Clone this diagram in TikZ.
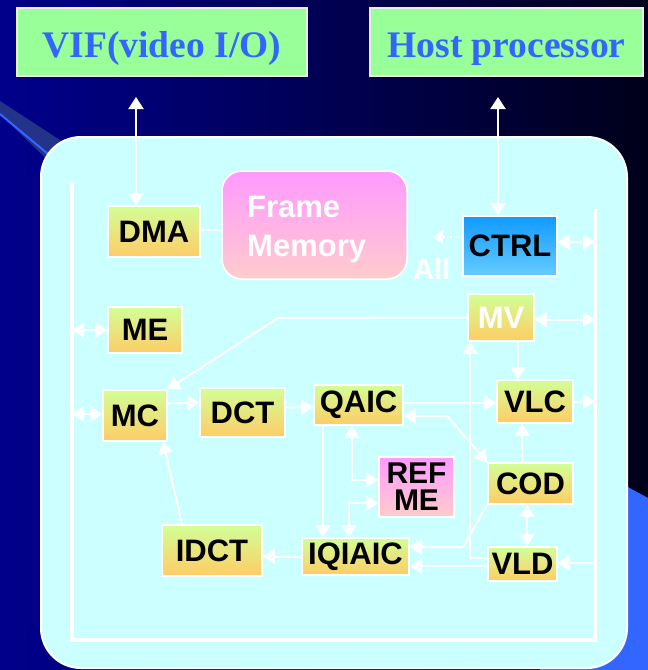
\documentclass[tikz,border=0pt]{standalone}
\usepackage{fontspec}
\setmainfont{Liberation Serif}
\newfontfamily\arialf{Liberation Sans}
\usetikzlibrary{arrows.meta}
\definecolor{bgL}{RGB}{0,0,140}
\definecolor{bgR}{RGB}{0,0,26}
\definecolor{stripe}{RGB}{34,51,136}
\definecolor{brblue}{RGB}{51,102,255}
\definecolor{panel}{RGB}{204,255,255}
\definecolor{topgreen}{RGB}{153,255,153}
\definecolor{topedge}{RGB}{235,235,235}
\definecolor{gtop}{RGB}{210,255,150}
\definecolor{gbot}{RGB}{255,204,102}
\definecolor{mtop}{RGB}{255,153,255}
\definecolor{mbot}{RGB}{255,204,204}
\definecolor{btop}{RGB}{17,153,255}
\definecolor{bbot}{RGB}{102,204,255}
\begin{document}
\begin{tikzpicture}[x=1pt,y=-1pt,
  topbox/.style={draw=topedge, line width=1.5pt, fill=topgreen, inner sep=0pt,
    text=brblue, font=\bfseries\fontsize{37.5}{37.5}\selectfont,
    text height=30pt, text depth=0pt},
  blk/.style={draw=white, line width=1.5pt, top color=gtop, bottom color=gbot,
    inner sep=0pt, text=black, font=\arialf\bfseries\fontsize{31}{31}\selectfont},
  magbox/.style={blk, top color=mtop, bottom color=mbot},
  bluebox/.style={blk, top color=btop, bottom color=bbot},
  conn/.style={draw=white, line width=2pt},
  arr/.style={conn, -{Triangle[length=12pt,width=15pt]}},
  dbl/.style={conn, {Triangle[length=12pt,width=15pt]}-{Triangle[length=12pt,width=15pt]}},
  wtext/.style={inner sep=0pt, text=white, font=\arialf\bfseries\fontsize{31}{39}\selectfont}
]
\useasboundingbox (0,0) rectangle (648,670);
% background
\shade[left color=bgL, right color=bgR] (0,0) rectangle (648,670);
\fill[stripe] (0,101) -- (80,153) -- (60,172) -- (0,114) -- cycle;
\draw[brblue, line width=2pt] (0,114) -- (60,164);
\fill[brblue] (540,439) -- (648,498) -- (648,670) -- (540,670) -- cycle;

% top boxes
\node[topbox, minimum width=290pt, minimum height=68pt] (vif) at (162,42) {VIF(video I/O)};
\node[topbox, minimum width=273pt, minimum height=68pt] (host) at (506.5,42) {Host processor};

% panel
\draw[white, line width=2pt, fill=panel, rounded corners=40pt] (41,137) rectangle (627,668);

% bus
\draw[white, line width=3.5pt] (72,182) -- (72,640) -- (595,640) -- (595,209);
\coordinate (lbus) at (72,0);
\coordinate (rbus) at (595,0);

% blocks
\node[blk, minimum width=92pt, minimum height=51pt] (dma) at (154,231.5) {DMA};
\node[magbox, minimum width=185pt, minimum height=108pt, rounded corners=20pt] (fm) at (314.5,225) {};
\node[wtext, anchor=north west, align=left] (fmtext) at (247,196) {Frame\\Memory};
\node[bluebox, minimum width=94pt, minimum height=60pt] (ctrl) at (510,246) {CTRL};
\node[wtext, anchor=base, font=\arialf\bfseries\fontsize{29}{29}\selectfont] (all) at (432,279) {All};
\node[blk, text=white, minimum width=66pt, minimum height=47pt] (mv) at (501,317.5) {MV};
\node[blk, minimum width=74pt, minimum height=46pt] (me) at (145,330) {ME};
\node[blk, minimum width=64pt, minimum height=51pt] (mc) at (135,415.5) {MC};
\node[blk, minimum width=85pt, minimum height=49pt] (dct) at (242.5,412.5) {DCT};
\node[blk, minimum width=89pt, minimum height=40pt] (qaic) at (358.5,405) {QAIC};
\node[blk, minimum width=76pt, minimum height=43pt] (vlc) at (535,401.5) {VLC};
\node[magbox, minimum width=75pt, minimum height=60pt, align=center,
      font=\arialf\bfseries\fontsize{30}{27}\selectfont] (refme) at (416.5,487) {REF\\ME};
\node[blk, minimum width=85pt, minimum height=41pt] (cod) at (530.5,483.5) {COD};
\node[blk, minimum width=100pt, minimum height=51pt] (idct) at (212,550.5) {IDCT};
\node[blk, minimum width=107pt, minimum height=37pt] (iqiaic) at (355.5,556.5) {IQIAIC};
\node[blk, minimum width=69pt, minimum height=34pt] (vld) at (522.5,564) {VLD};

% connectors
\coordinate (vifa) at (136,97);
\coordinate (hosta) at (498,97);
\draw[dbl] (vifa) -- (vifa |- dma.north);
\draw[dbl] (hosta) -- (hosta |- ctrl.north);
\coordinate (dme) at ([yshift=2]dma.east);
\draw[conn] (dme) -- (dme -| fm.west);
\coordinate (alltip) at (433,237);
\draw[white, line width=1.5pt, dotted, -{Triangle[length=10pt,width=13pt]}] (alltip -| ctrl.west) -- (alltip);
\coordinate (cte) at ([yshift=4]ctrl.east);
\draw[dbl] (cte) -- (cte -| rbus);
\coordinate (mve) at ([yshift=-2]mv.east);
\draw[dbl] (mve) -- (mve -| rbus);
\draw[dbl] (me.west) -- (me.west -| lbus);
\coordinate (mcw) at ([yshift=1.5]mc.west);
\draw[dbl] (mcw) -- (mcw -| lbus);
\draw[arr] ([yshift=12]mc.east) -- ([yshift=10]dct.west);
\draw[arr] ([yshift=5]dct.east) -- ([yshift=-2]qaic.west);
\coordinate (mvbend) at (278,318);
\draw[arr] (mv.west) -- (mvbend) -- (mc.north east);
\draw[arr] ([xshift=-30]idct.north) -- ([xshift=28]mc.south);
\draw[arr] (iqiaic.west) -- (iqiaic.west -| idct.east);
\coordinate (cqi) at (323,0);
\coordinate (cqr) at (352,0);
\coordinate (cri) at (349,0);
\draw[arr] (qaic.south -| cqi) -- (iqiaic.north -| cqi);
\draw[dbl] (qaic.south -| cqr) |- ([yshift=7]refme.west);
\draw[dbl] ([yshift=-16]refme.west) -| (iqiaic.north -| cri);
\coordinate (qae) at ([yshift=2]qaic.east);
\draw[arr] (qae) -- (qae -| vlc.west);
\draw[arr] (vlc.east) -- (vlc.east -| rbus);
\coordinate (cmv) at (518,0);
\coordinate (ccv) at (522,0);
\draw[arr] (mv.south -| cmv) -- (vlc.north -| cmv);
\draw[arr] (cod.north -| ccv) -- (vlc.south -| ccv);
\coordinate (cqbend) at (447,416);
\draw[dbl] (cod.north west) -- (cqbend) -- (cqbend -| qaic.east);
\coordinate (cvm) at (470,0);
\draw[arr] ([yshift=6]vld.west) -| (mv.south -| cvm);
\coordinate (ccd) at (527,0);
\draw[dbl] (cod.south -| ccd) -- (vld.north -| ccd);
\coordinate (vle) at ([yshift=1]vld.east);
\draw[arr] (vle -| rbus) -- (vle);
\coordinate (vw) at ([yshift=-2]vld.west);
\draw[arr] (vw) -- (vw -| iqiaic.east);
\coordinate (codbend) at (463,547);
\draw[arr] (cod.south west) -- (codbend) -- (codbend -| iqiaic.east);
\end{tikzpicture}
\end{document}
